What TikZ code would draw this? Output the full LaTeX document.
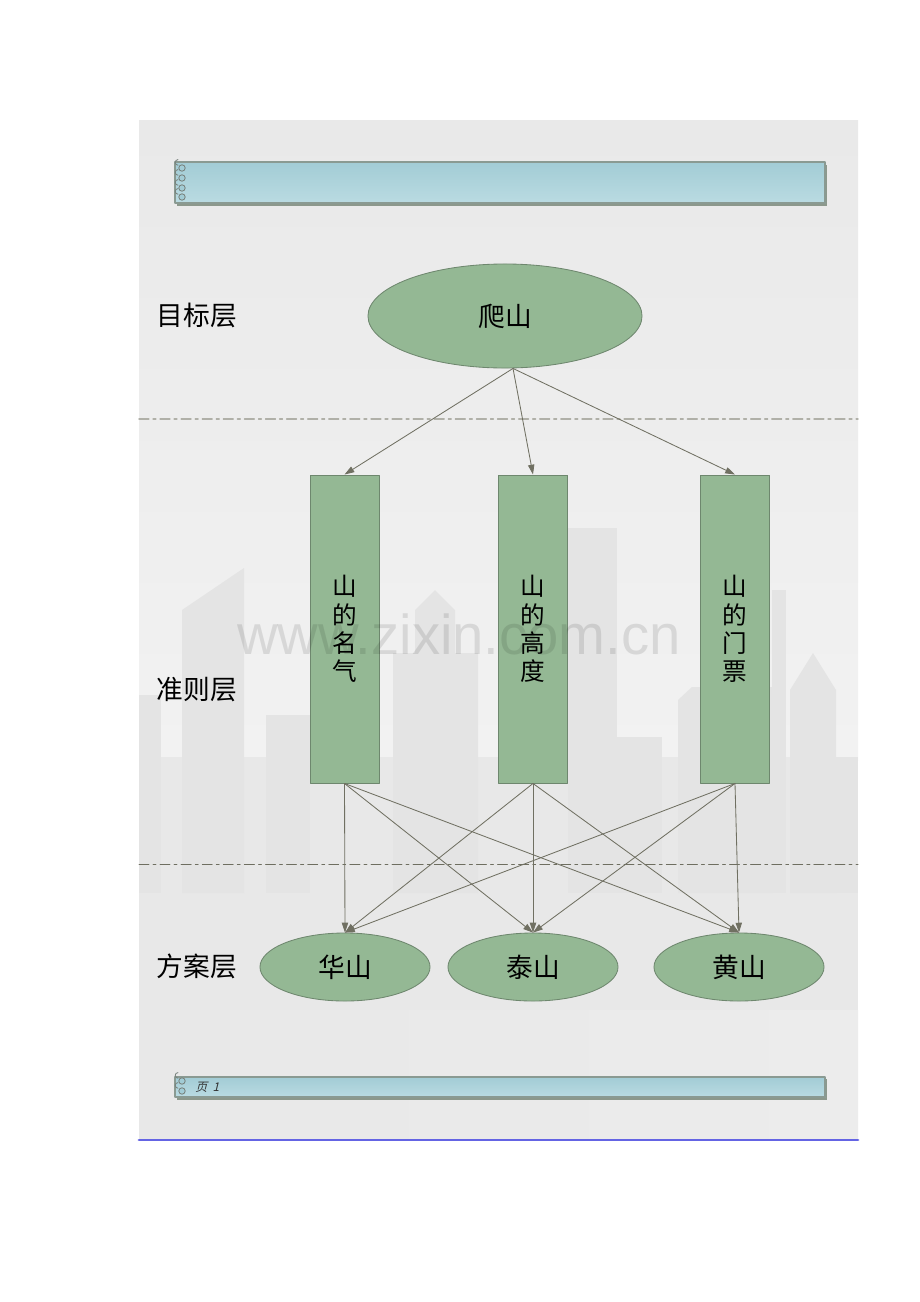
\documentclass[tikz,border=0pt]{standalone}
\usepackage{fontspec}
\newfontfamily\cjk{Noto Sans CJK SC}
\newfontfamily\cjkit[FakeSlant=0.25]{Noto Sans CJK SC}
\newfontfamily\wmfont{Liberation Sans}
\usetikzlibrary{arrows.meta,shapes.geometric}
\definecolor{nodegreen}{RGB}{148,184,148}
\definecolor{nodeedge}{RGB}{110,135,110}
\definecolor{arrowgray}{RGB}{112,112,98}
\definecolor{bannertop}{RGB}{162,204,213}
\definecolor{bannerbot}{RGB}{186,219,226}
\definecolor{banneredge}{RGB}{138,154,146}
\definecolor{bannershadow}{RGB}{140,152,140}
\definecolor{ringgray}{RGB}{120,130,125}
\definecolor{bldg}{RGB}{228,228,228}
\definecolor{skytop}{RGB}{233,233,233}
\definecolor{skybot}{RGB}{242,242,242}
\definecolor{groundgray}{RGB}{232,232,232}
\definecolor{stripleft}{RGB}{232,232,232}
\definecolor{stripright}{RGB}{236,236,236}
\definecolor{seplight}{RGB}{176,176,168}
\definecolor{sepdark}{RGB}{110,110,96}
\definecolor{pagelink}{RGB}{100,100,228}
\begin{document}
\begin{tikzpicture}[line cap=round,line join=round,x=0.025cm,y=-0.025cm,
    goalnode/.style={ellipse,draw=nodeedge,fill=nodegreen,line width=0.6pt,inner sep=0pt,
      minimum width=6.85cm,minimum height=2.6cm,font=\cjk\fontsize{19}{20}\selectfont},
    critnode/.style={rectangle,draw=nodeedge,fill=nodegreen,line width=0.6pt,inner sep=0pt,
      minimum width=1.725cm,minimum height=7.7cm,align=center,font=\cjk\fontsize{17.5}{20.1}\selectfont},
    altnode/.style={ellipse,draw=nodeedge,fill=nodegreen,line width=0.6pt,inner sep=0pt,
      minimum width=4.25cm,minimum height=1.7cm,font=\cjk\fontsize{19}{20}\selectfont},
    layerlabel/.style={font=\cjk\fontsize{19}{20}\selectfont},
    arr/.style={draw=arrowgray,line width=0.6pt,-{Triangle[length=7pt,width=4.5pt]}},
    dashdot/.style={line width=1pt,dash pattern=on 7pt off 3pt on 2pt off 3pt},
    ring/.style={draw=ringgray,line width=0.6pt}]
  \useasboundingbox (0,0) rectangle (920,1302);
  \fill[white] (0,0) rectangle (920,1302);
  % background panel
  \shade[top color=skytop,bottom color=skybot] (139,120) rectangle (858,760);
  \fill[groundgray] (139,757) rectangle (858,1010);
  % city skyline
  \fill[bldg] (139,893) -- (139,695) -- (161,695) -- (161,893) -- cycle;
  \fill[bldg] (182,893) -- (182,610) -- (244,568) -- (244,893) -- cycle;
  \fill[bldg] (266,893) -- (266,715) -- (310,715) -- (310,893) -- cycle;
  \fill[bldg] (393,893) -- (393,653) -- (415,653) -- (415,610) -- (435,590) -- (455,610) -- (455,653) -- (478,653) -- (478,893) -- cycle;
  \fill[bldg] (568,893) -- (568,528) -- (617,528) -- (617,893) -- cycle;
  \fill[bldg] (617,893) -- (617,737) -- (662,737) -- (662,893) -- cycle;
  \fill[bldg] (678,893) -- (678,700) -- (692,687) -- (772,687) -- (772,893) -- cycle;
  \fill[bldg] (772,893) -- (772,590) -- (786,590) -- (786,893) -- cycle;
  \fill[bldg] (790,893) -- (790,690) -- (813,653) -- (836,690) -- (836,893) -- cycle;
  \fill[bldg] (836,893) -- (836,757) -- (858,757) -- (858,893) -- cycle;
  \shade[left color=stripleft,middle color=white,right color=stripright] (139,1010) rectangle (858,1138);
  \draw[pagelink,line width=2pt] (139,1140) -- (858,1140);
  % banners
  \fill[bannershadow] (177,165) rectangle (827,206);
  \shade[top color=bannertop,bottom color=bannerbot,draw=banneredge,line width=0.8pt] (175,162) rectangle (825,203);
  \foreach \y in {168,178,188,197} {
    \draw[ring,fill=bannertop] (182,\y) circle (3.2);
    \draw[ring] (178,\y-2.8) arc (90:270:2.8);
  }
  \fill[bannershadow] (177,1079) rectangle (827,1100);
  \shade[top color=bannertop,bottom color=bannerbot,draw=banneredge,line width=0.8pt] (175,1077) rectangle (825,1097);
  \foreach \y in {1081,1091} {
    \draw[ring,fill=bannertop] (182,\y) circle (3.2);
    \draw[ring] (178,\y-2.8) arc (90:270:2.8);
  }
  \node[anchor=west,inner sep=0pt,text=black!80] (pageno) at (195,1087) {\cjkit\fontsize{8.5}{9}\selectfont 页\ \ \itshape 1};
  % layer separators
  \draw[dashdot,color=seplight] (139,419) -- (858,419);
  \draw[dashdot,line width=0.7pt,color=sepdark] (139,864) -- (858,864);
  % layer labels
  \node[layerlabel] (lgoal) at (197,315) {目标层};
  \node[layerlabel] (lcrit) at (197,690) {准则层};
  \node[layerlabel] (lalt) at (197,966) {方案层};
  % hierarchy
  \node[goalnode] (goal) at (505,316) {爬山};
  \node[critnode] (c1) at (344.5,629) {山\\的\\名\\气};
  \node[critnode] (c2) at (533,629) {山\\的\\高\\度};
  \node[critnode] (c3) at (735,629) {山\\的\\门\\票};
  \node[altnode] (a1) at (345,967) {华山};
  \node[altnode] (a2) at (533,967) {泰山};
  \node[altnode] (a3) at (739,967) {黄山};
  \foreach \i in {1,2,3}
    \draw[arr] ([xshift=0.2cm]goal.south) -- (c\i.north);
  \foreach \i in {1,2,3}
    \foreach \j in {1,2,3}
      \draw[arr] (c\i.south) -- (a\j.north);
  % watermark
  \node[text=black,opacity=0.1,font=\wmfont\fontsize{40}{40}\selectfont] (wm) at (459,634) {www.zixin.com.cn};
\end{tikzpicture}
\end{document}
